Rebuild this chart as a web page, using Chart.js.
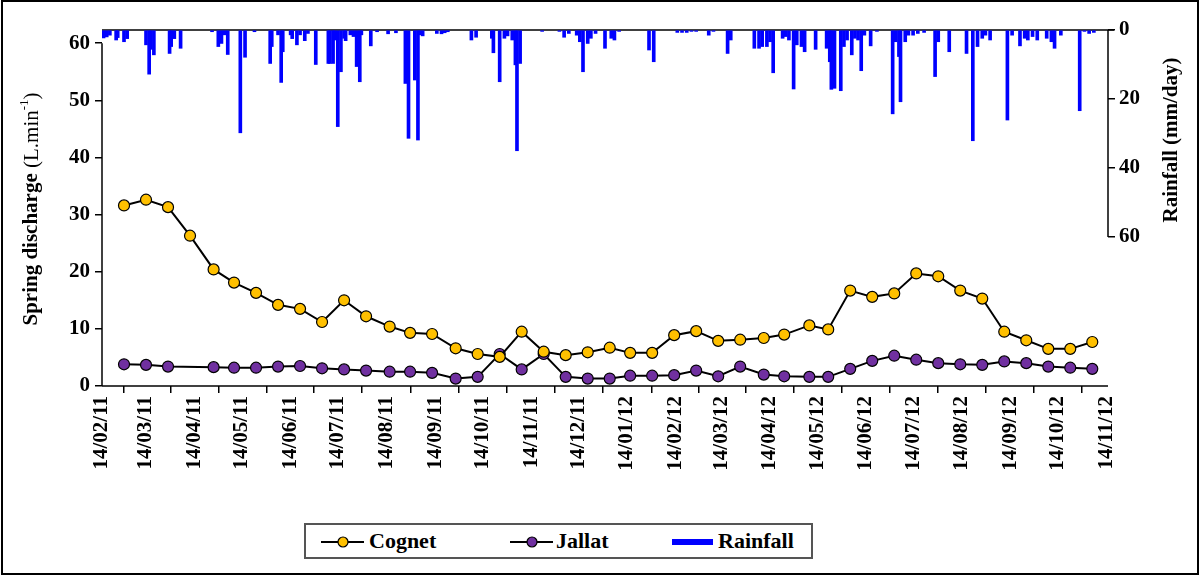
<!DOCTYPE html>
<html><head><meta charset="utf-8">
<script src="https://cdn.jsdelivr.net/npm/chart.js@4.4.1/dist/chart.umd.min.js"></script>
<style>
html,body{margin:0;padding:0;background:#fff;}
#wrap{position:relative;width:1201px;height:576px;overflow:hidden;}
#frame{position:absolute;left:1px;top:0px;width:1198px;height:575px;border:2px solid #000;box-sizing:border-box;pointer-events:none;}
#c{position:absolute;left:0;top:0;}
#legend{position:absolute;left:304px;top:523px;width:509px;height:36px;border:2px solid #555;box-sizing:border-box;background:#fff;
 font-family:'Liberation Serif','Times New Roman',serif;font-weight:bold;font-size:22px;color:#000;}
#legend .it{position:absolute;top:0;height:32px;line-height:32px;white-space:nowrap;}
#legend svg{position:absolute;top:0;}
</style></head>
<body>
<div id="wrap">
<canvas id="c" width="1201" height="576"></canvas>
<div id="legend">
 <svg style="left:14px" width="46" height="32"><line x1="1" y1="17" x2="44" y2="17" stroke="#000" stroke-width="2"/><circle cx="23" cy="17" r="5" fill="#FFC000" stroke="#000" stroke-width="1.2"/></svg>
 <span class="it" style="left:63px">Cognet</span>
 <svg style="left:203px" width="46" height="32"><line x1="1" y1="17" x2="44" y2="17" stroke="#000" stroke-width="2"/><circle cx="23" cy="17" r="5" fill="#7030A0" stroke="#000" stroke-width="1.2"/></svg>
 <span class="it" style="left:250px">Jallat</span>
 <svg style="left:366px" width="42" height="32"><rect x="0" y="14" width="41" height="6" fill="#0000FF"/></svg>
 <span class="it" style="left:412px">Rainfall</span>
</div>
<div id="frame"></div>
</div>
<script>
// ---- data ----
const START = '2011-02-14';
const xTickLabels = ['14/02/11','14/03/11','14/04/11','14/05/11','14/06/11','14/07/11','14/08/11','14/09/11','14/10/11','14/11/11','14/12/11',
 '14/01/12','14/02/12','14/03/12','14/04/12','14/05/12','14/06/12','14/07/12','14/08/12','14/09/12','14/10/12','14/11/12'];
const leftTicks = [0,10,20,30,40,50,60];
const rightTicks = [0,20,40,60];
const sampleDates = ['2011-02-28','2011-03-14','2011-03-28','2011-04-11','2011-04-26','2011-05-09','2011-05-23','2011-06-06','2011-06-20',
 '2011-07-04','2011-07-18','2011-08-01','2011-08-16','2011-08-29','2011-09-12','2011-09-27','2011-10-11','2011-10-25','2011-11-08',
 '2011-11-22','2011-12-06','2011-12-20','2012-01-03','2012-01-16','2012-01-30','2012-02-13','2012-02-27','2012-03-12','2012-03-26',
 '2012-04-10','2012-04-23','2012-05-09','2012-05-21','2012-06-04','2012-06-18','2012-07-02','2012-07-16','2012-07-30','2012-08-13',
 '2012-08-27','2012-09-10','2012-09-24','2012-10-08','2012-10-22','2012-11-05'];
const cognet = [31.6,32.6,31.3,26.3,20.4,18.1,16.3,14.2,13.5,11.2,15.0,12.2,10.4,9.3,9.1,6.6,5.6,5.1,9.5,6.0,5.4,5.9,6.7,
 5.8,5.8,8.9,9.6,7.9,8.1,8.4,9.0,10.6,9.9,16.7,15.6,16.2,19.7,19.2,16.7,15.3,9.5,8.0,6.5,6.5,7.7];
const jallat = [3.8,3.7,3.4,null,3.3,3.2,3.2,3.4,3.5,3.1,2.9,2.7,2.5,2.5,2.3,1.3,1.6,5.6,2.9,5.6,1.6,1.3,1.3,
 1.8,1.8,1.9,2.7,1.7,3.4,2.0,1.7,1.6,1.6,3.0,4.4,5.3,4.6,4.0,3.8,3.7,4.3,4.0,3.4,3.2,3.0];
// rainfall: day number counted from START, and mm/day
const rainDay = [1,3,5,9,10,14,16,28,30,31,33,43,44,46,50,70,74,76,78,80,88,91,97,107,108,112,114,115,120,121,124,126,129,131,136,
 144,145,147,148,150,152,154,155,158,160,162,164,165,171,175,182,187,193,195,199,201,202,204,213,216,218,220,235,238,248,249,253,
 256,258,261,263,264,266,280,291,294,297,302,304,306,309,311,314,320,324,326,329,348,351,366,369,372,375,378,386,389,398,400,415,
 418,420,423,425,427,433,435,437,440,442,445,447,454,461,463,464,466,470,472,474,477,479,481,483,485,489,493,503,505,507,508,511,
 513,516,519,523,530,532,539,550,554,557,560,562,565,576,579,584,587,589,592,595,601,604,606,610,622,625,628,631];
const rainMm = [2.3,2.0,1.5,2.9,2.2,3.4,2.5,4.3,12.8,5.6,7.2,6.8,4.8,2.5,5.3,0.5,4.8,3.9,1.4,7.1,29.8,7.9,0.5,9.7,4.8,1.4,15.2,6.3,1.4,2.5,4.3,1.4,3.1,1.0,10.0,
 9.7,9.7,9.7,2.9,28.0,12.1,2.4,3.1,1.4,1.9,10.6,15.0,1.4,4.6,0.5,1.1,0.8,15.5,31.4,14.5,31.9,1.4,1.7,1.0,1.1,0.8,0.5,2.9,2.1,2.4,6.6,15.0,
 2.4,1.7,2.9,10.1,35.0,9.7,0.4,0.4,2.1,1.0,1.5,3.4,12.1,3.9,2.4,1.0,5.3,2.4,2.9,0.4,5.8,9.2,0.7,0.7,0.7,0.4,0.4,1.5,0.4,6.8,2.9,5.3,
 5.3,4.8,4.8,3.4,12.4,2.4,1.9,2.9,17.1,4.3,4.8,6.3,5.6,5.3,9.2,17.2,16.9,17.6,4.8,2.9,7.2,2.4,2.9,11.8,1.5,4.6,0.4,24.3,3.4,7.7,20.8,3.4,
 1.5,1.5,1.0,0.7,13.5,3.4,6.3,6.8,32.1,4.8,2.4,1.5,2.9,26.1,1.5,4.6,2.4,2.9,1.9,2.9,2.4,3.4,5.3,1.5,23.4,0.4,1.0,0.7];

// ---- helpers ----
const DAY = 86400000;
function isoToUTC(s){const p=s.split('-').map(Number);return Date.UTC(p[0],p[1]-1,p[2]);}
const t0 = isoToUTC(START);
const dayOfIso = s => Math.round((isoToUTC(s)-t0)/DAY);
const dayOfLabel = s => {const p=s.split('/').map(Number);return Math.round((Date.UTC(2000+p[2],p[1]-1,p[0])-t0)/DAY);};
const xTickDays = xTickLabels.map(dayOfLabel);
const sampleDays = sampleDates.map(dayOfIso);
const labelByDay = {}; xTickDays.forEach((d,i)=>labelByDay[d]=xTickLabels[i]);

const FONT = "'Liberation Serif','Times New Roman',serif";
const tickFont = {family: FONT, size: 21, weight: 'bold'};

const deco = {
  id: 'deco',
  beforeDatasetsDraw(chart){
    const {ctx, chartArea:a, scales} = chart;
    ctx.save();
    ctx.strokeStyle = '#000'; ctx.lineWidth = 1.5;
    const L = (x1,y1,x2,y2)=>{ctx.beginPath();ctx.moveTo(x1,y1);ctx.lineTo(x2,y2);ctx.stroke();};
    L(a.left, scales.y.getPixelForValue(60), a.left, a.bottom);
    L(a.left, a.bottom, a.right, a.bottom);
    L(a.left, a.top, a.right+6, a.top);
    L(a.right, a.top, a.right, scales.y2.getPixelForValue(60));
    ctx.restore();
  },
  afterDraw(chart){
    const ctx = chart.ctx;
    ctx.save();
    ctx.fillStyle = '#000';
    ctx.textBaseline = 'middle';
    // left title (mixed weights)
    const partsL = [
      {t:'Spring discharge ', f:`bold 21px ${FONT}`, dy:0},
      {t:'(L.min', f:`21px ${FONT}`, dy:0},
      {t:'-1', f:`13px ${FONT}`, dy:-7},
      {t:')', f:`21px ${FONT}`, dy:0}
    ];
    let w = 0; partsL.forEach(p=>{ctx.font=p.f; p.w=ctx.measureText(p.t).width; w+=p.w;});
    ctx.translate(32, 209); ctx.rotate(-Math.PI/2);
    let x = -w/2; ctx.textAlign='left';
    partsL.forEach(p=>{ctx.font=p.f; ctx.fillText(p.t, x, p.dy); x+=p.w;});
    ctx.setTransform(1,0,0,1,0,0);
    ctx.translate(1172, 140); ctx.rotate(-Math.PI/2);
    ctx.textAlign='center'; ctx.font = `bold 21px ${FONT}`;
    ctx.fillText('Rainfall (mm/day)', 0, 0);
    ctx.restore();
  }
};

new Chart(document.getElementById('c'), {
  type: 'line',
  data: {
    datasets: [
      {type:'line', label:'Cognet', data: sampleDays.map((d,i)=>({x:d, y:cognet[i]})), yAxisID:'y',
       borderColor:'#000', borderWidth:2, tension:0, spanGaps:true, pointRadius:5.5, pointBackgroundColor:'#FFC000',
       pointBorderColor:'#000', pointBorderWidth:1.2, order:1},
      {type:'line', label:'Jallat', data: sampleDays.map((d,i)=>({x:d, y:jallat[i]})), yAxisID:'y',
       borderColor:'#000', borderWidth:2, tension:0, spanGaps:true, pointRadius:5.5, pointBackgroundColor:'#7030A0',
       pointBorderColor:'#000', pointBorderWidth:1.2, order:2},
      {type:'bar', label:'Rainfall', data: rainDay.map((d,i)=>({x:d, y:rainMm[i]})), yAxisID:'y2',
       backgroundColor:'#0000FF', borderWidth:0, barThickness:3, grouped:false, order:3}
    ]
  },
  options: {
    responsive:false, animation:false, devicePixelRatio:1,
    layout:{padding:{top:30, left:0, right:0, bottom:0}},
    plugins:{legend:{display:false}, tooltip:{enabled:false}},
    scales: {
      x: {type:'linear', min:0, max:640, offset:false,
          afterBuildTicks(s){ s.ticks = xTickDays.map(v=>({value:v})); },
          afterFit(s){ s.height = 576-386; },
          ticks:{autoSkip:false, minRotation:90, maxRotation:90, padding:3, color:'#000', font:tickFont,
                 callback:v=>labelByDay[v] ?? ''},
          grid:{drawOnChartArea:false, drawTicks:true, tickLength:7, color:'#000', lineWidth:1.5},
          border:{display:false}},
      y: {position:'left', min:0, max:62.3,
          afterBuildTicks(s){ s.ticks = leftTicks.map(v=>({value:v})); },
          afterFit(s){ s.width = 102; },
          ticks:{padding:5, color:'#000', font:tickFont},
          grid:{drawOnChartArea:false, drawTicks:true, tickLength:7, color:'#000', lineWidth:1.5},
          border:{display:false}},
      y2: {position:'right', reverse:true, min:0, max:103.2,
          afterBuildTicks(s){ s.ticks = rightTicks.map(v=>({value:v})); },
          afterFit(s){ s.width = 1201-1108; },
          ticks:{padding:4, color:'#000', font:tickFont},
          grid:{drawOnChartArea:false, drawTicks:true, tickLength:7, color:'#000', lineWidth:1.5},
          border:{display:false}}
    }
  },
  plugins:[deco]
});
</script>
</body></html>
